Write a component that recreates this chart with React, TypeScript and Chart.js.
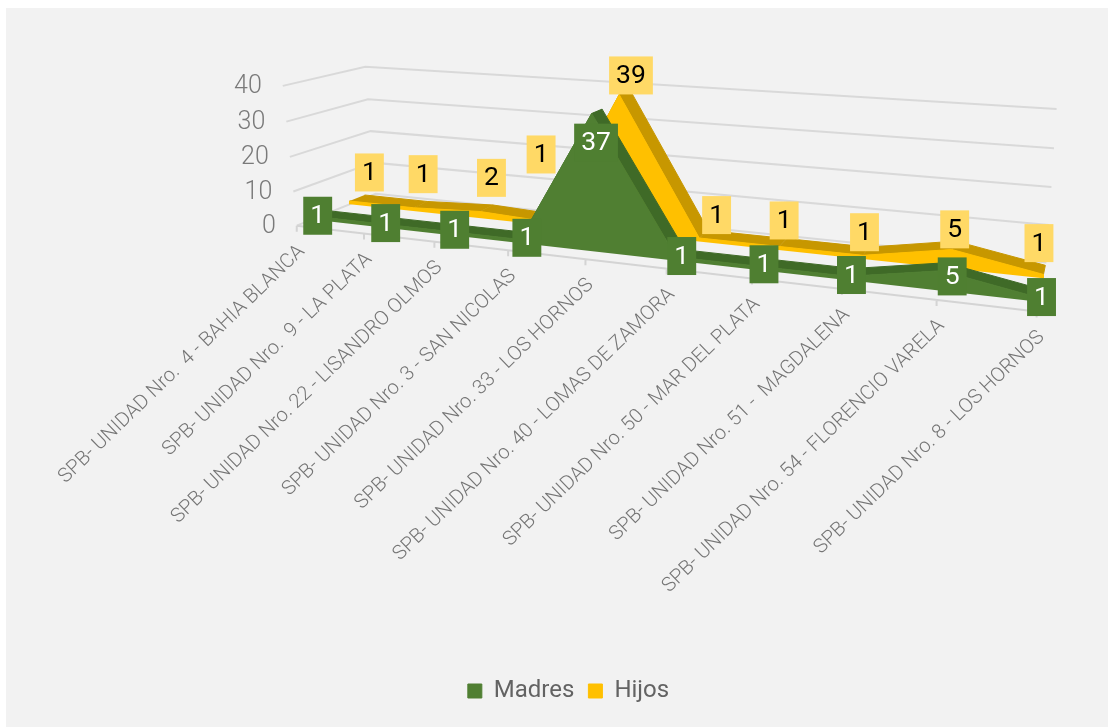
import React, { useEffect, useRef } from "react";
import { Chart, registerables } from "chart.js";

Chart.register(...registerables);

const categories = [
  "SPB- UNIDAD Nro.  4 - BAHIA BLANCA",
  "SPB- UNIDAD Nro.  9 - LA PLATA",
  "SPB- UNIDAD Nro. 22 - LISANDRO OLMOS",
  "SPB- UNIDAD Nro. 3 - SAN NICOLAS",
  "SPB- UNIDAD Nro. 33 - LOS HORNOS",
  "SPB- UNIDAD Nro. 40 - LOMAS DE ZAMORA",
  "SPB- UNIDAD Nro. 50 - MAR DEL PLATA",
  "SPB- UNIDAD Nro. 51 -  MAGDALENA",
  "SPB- UNIDAD Nro. 54 - FLORENCIO VARELA",
  "SPB- UNIDAD Nro. 8 - LOS HORNOS",
];
const madres = [1, 1, 1, 1, 37, 1, 1, 1, 5, 1];
const hijos = [1, 1, 2, 1, 39, 1, 1, 1, 5, 1];
const yTicks = [0, 10, 20, 30, 40];
const yMax = 40;

// Perspective camera: (category, value, depth 0=front..1=back) -> picture space
const project = (i: number, v: number, z: number) => {
  const X = i / (categories.length - 1);
  const Y = v / yMax;
  const w = 1 - 0.2 * X - 0.03 * Y + 0.106 * z;
  return {
    x: (297 + 533 * X - 22.5 * Y + 118.9 * z) / w,
    y: (225 + 23.8 * X - 142.55 * Y - 11.54 * z) / w,
  };
};

const GREEN_Z = [0.18, 0.35];
const YELLOW_Z = [0.65, 0.85];
const GAP = { x: null, y: null } as any;

const frontFace = (vals: number[], z: number) => [
  project(0, 0, z),
  ...vals.map((v, i) => project(i, v, z)),
  project(vals.length - 1, 0, z),
];
// One closed quad per segment between neighbouring categories
const ribbon = (vals: number[], z0: number, z1: number) =>
  vals.slice(1).flatMap((v, k) => [
    project(k, vals[k], z0),
    project(k + 1, v, z0),
    project(k + 1, v, z1),
    project(k, vals[k], z1),
    GAP,
  ]);

const gridPoints = yTicks.flatMap((t) => [
  project(0, t, 0),
  project(0, t, 1),
  project(categories.length - 1, t, 1),
  GAP,
]);
const axisPoints = [
  project(0, 0, 0),
  project(categories.length - 1, 0, 0),
  GAP,
  ...categories.flatMap((_, i) => {
    const p = project(i, 0, 0);
    return [p, { x: p.x, y: p.y + 6 }, GAP];
  }),
];

const textPlugin = {
  id: "picture-text",
  afterDatasetsDraw(chart: any) {
    const { ctx, scales } = chart;
    const px = (p: { x: number; y: number }) => ({
      x: scales.x.getPixelForValue(p.x),
      y: scales.y.getPixelForValue(p.y),
    });
    ctx.save();
    // value axis
    ctx.fillStyle = "#7a7a7a";
    ctx.font = "300 25px Roboto";
    ctx.textAlign = "right";
    ctx.textBaseline = "middle";
    yTicks.forEach((t) => {
      const p = px(project(0, t, 0));
      ctx.fillText(String(t), p.x - 21, p.y + 1);
    });
    // category axis
    ctx.font = "300 20px Roboto";
    ctx.fillStyle = "#757575";
    categories.forEach((c, i) => {
      const p = px(project(i, 0, 0));
      ctx.save();
      ctx.translate(p.x + 5, p.y + 23);
      ctx.rotate((-44 * Math.PI) / 180);
      ctx.fillText(c, 0, 0);
      ctx.restore();
    });
    // data labels
    const shiftH = [[16, -27], [6, -32], [8, -32], [-12, -66], [9, -18], [15, -21], [3, -24], [0, -21], [2, -18], [-5, -29]];
    const shiftM = [[0, 2], [2, 2], [2, 1], [2, 1], [0, 31], [2, 2], [1, 1], [1, 2], [9, 9], [2, 3]];
    const drawLabels = (vals: number[], z: number, shift: number[][], bg: string, fg: string) => {
      ctx.font = "26.5px Roboto";
      ctx.textAlign = "center";
      vals.forEach((v, i) => {
        const p = px(project(i, v, z));
        const cx = p.x + shift[i][0];
        const cy = p.y + shift[i][1];
        const w = ctx.measureText(String(v)).width + 14;
        ctx.fillStyle = bg;
        ctx.fillRect(cx - w / 2, cy - 19, w, 38);
        ctx.fillStyle = fg;
        ctx.fillText(String(v), cx, cy + 1);
      });
    };
    drawLabels(hijos, 0.7, shiftH, "#ffd966", "#000000");
    drawLabels(madres, 0.25, shiftM, "#4f7f31", "#ffffff");
    ctx.restore();
  },
};

export default function App() {
  const ref = useRef<HTMLCanvasElement>(null);
  useEffect(() => {
    const flat = { pointRadius: 0, pointHoverRadius: 0, tension: 0 };
    const chart = new Chart(ref.current as HTMLCanvasElement, {
      type: "line",
      data: {
        datasets: [
          { ...flat, label: "Madres", data: frontFace(madres, GREEN_Z[0]), backgroundColor: "#507f32", borderColor: "#507f32", borderWidth: 1, fill: "shape" },
          { ...flat, data: ribbon(madres, GREEN_Z[0], GREEN_Z[1]), backgroundColor: "#3f6a27", borderColor: "#3f6a27", borderWidth: 1, fill: "shape" },
          { ...flat, label: "Hijos", data: frontFace(hijos, YELLOW_Z[0]), backgroundColor: "#ffc000", borderColor: "#ffc000", borderWidth: 1, fill: "shape" },
          { ...flat, data: ribbon(hijos, YELLOW_Z[0], YELLOW_Z[1]), backgroundColor: "#c79700", borderColor: "#c79700", borderWidth: 1, fill: "shape" },
          { ...flat, data: axisPoints, borderColor: "#d4d4d4", borderWidth: 2, fill: false },
          { ...flat, data: gridPoints, borderColor: "#d9d9d9", borderWidth: 2, fill: false },
        ] as any,
      },
      options: {
        responsive: false,
        animation: false,
        devicePixelRatio: 1,
        layout: { padding: { left: 26, bottom: 14 } },
        scales: {
          x: { type: "linear", display: false, min: 0, max: 1111 },
          y: { type: "linear", display: false, reverse: true, min: 0, max: 727 },
        },
        plugins: {
          tooltip: { enabled: false },
          legend: {
            position: "bottom",
            labels: {
              boxWidth: 14,
              boxHeight: 14,
              color: "#636363",
              padding: 14,
              font: { family: "Roboto", size: 24 },
              filter: (item: any) => !!item.text,
            },
          },
        },
      } as any,
      plugins: [textPlugin],
    });
    // Make one scale unit equal to one picture pixel, whatever room the legend took
    const area = chart.chartArea;
    const sc = chart.options.scales as any;
    sc.x.min = area.left;
    sc.x.max = area.right;
    sc.y.min = area.top;
    sc.y.max = area.bottom;
    chart.update();
    return () => chart.destroy();
  }, []);
  return (
    <div style={{ position: "absolute", left: 0, top: 0, width: 1111, height: 727, background: "#ffffff", overflow: "hidden" }}>
      <div style={{ position: "absolute", left: 6, top: 8, width: 1102, height: 719, background: "#f2f2f2" }} />
      <canvas ref={ref} width={1111} height={727} style={{ position: "absolute", left: 0, top: 0 }} />
    </div>
  );
}
